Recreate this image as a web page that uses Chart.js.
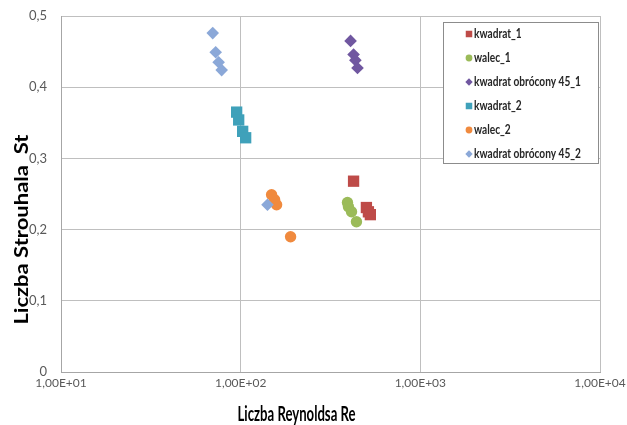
<!DOCTYPE html>
<html>
<head>
<meta charset="utf-8">
<script src="https://cdn.jsdelivr.net/npm/chart.js@4/dist/chart.umd.min.js"></script>
<style>
  html, body { margin: 0; padding: 0; background: #fff; }
</style>
</head>
<body>
<canvas id="chart" width="627" height="425"></canvas>
<script>
// Re / St pairs for each specimen shape
const kwadrat1Re = [425, 501, 514, 527];
const kwadrat1St = [0.268, 0.231, 0.225, 0.221];
const walec1Re = [393, 398, 414, 441];
const walec1St = [0.238, 0.232, 0.225, 0.211];
const obrocony1Re = [409, 425, 435, 447];
const obrocony1St = [0.465, 0.446, 0.438, 0.427];
const kwadrat2Re = [95.0, 97.5, 102.6, 106.6];
const kwadrat2St = [0.365, 0.354, 0.338, 0.329];
const walec2Re = [148.6, 154.5, 158.5, 189.6];
const walec2St = [0.249, 0.242, 0.235, 0.190];
const obrocony2Re = [69.9, 72.6, 75.4, 78.4, 141];
const obrocony2St = [0.476, 0.449, 0.435, 0.424, 0.235];

const seriesNames = ['kwadrat_1', 'walec_1', 'kwadrat obrócony 45_1', 'kwadrat_2', 'walec_2', 'kwadrat obrócony 45_2'];
const reTicks = [10, 100, 1000, 10000];
const stTicks = [0, 0.1, 0.2, 0.3, 0.4, 0.5];
const xTitle = 'Liczba Reynoldsa Re';
const yTitle = 'Liczba Strouhala  St';

const FONT = 'Lato, "Open Sans", sans-serif';

const pairs = (xs, ys) => xs.map((x, i) => ({ x: x, y: ys[i] }));

const styles = [
  { color: '#BE4B48', shape: 'rect', r: 8 },
  { color: '#9BBB59', shape: 'circle', r: 5.7 },
  { color: '#7057A0', shape: 'rectRot', r: 6.3 },
  { color: '#3FA1BA', shape: 'rect', r: 8 },
  { color: '#F08A3E', shape: 'circle', r: 5.7 },
  { color: '#8BA8D8', shape: 'rectRot', r: 6.3 },
];

const seriesData = [
  pairs(kwadrat1Re, kwadrat1St),
  pairs(walec1Re, walec1St),
  pairs(obrocony1Re, obrocony1St),
  pairs(kwadrat2Re, kwadrat2St),
  pairs(walec2Re, walec2St),
  pairs(obrocony2Re, obrocony2St),
];

const datasets = seriesData.map((data, i) => ({
  label: seriesNames[i],
  data: data,
  pointStyle: styles[i].shape,
  pointRadius: styles[i].r,
  pointBackgroundColor: styles[i].color,
  pointBorderWidth: 0,
  order: seriesData.length - i, // later series on top
}));

// 1,00E+02 style
function fmtExp(v) {
  let parts = v.toExponential(2).split('e');
  let exp = parseInt(parts[1], 10);
  return parts[0].replace('.', ',') + 'E' + (exp < 0 ? '-' : '+') + String(Math.abs(exp)).padStart(2, '0');
}

// squeeze text horizontally to a given width
function fillFitted(ctx, text, x, y, width) {
  let w = ctx.measureText(text).width;
  ctx.save();
  ctx.translate(x, y);
  ctx.scale(width / w, 1);
  ctx.fillText(text, 0, 0);
  ctx.restore();
}

const axisTitles = {
  id: 'axisTitles',
  afterDraw(chart) {
    let ctx = chart.ctx;
    let area = chart.chartArea;
    ctx.save();
    ctx.fillStyle = '#000';
    ctx.textAlign = 'center';
    ctx.textBaseline = 'middle';
    ctx.font = 'bold 21px ' + FONT;
    fillFitted(ctx, xTitle, area.left + (area.right - area.left) * 0.437, area.bottom + 42, 118);
    ctx.font = 'bold 19px ' + FONT;
    ctx.translate(22, area.top + (area.bottom - area.top) * 0.6);
    ctx.rotate(-Math.PI / 2);
    fillFitted(ctx, yTitle, 0, 0, 190);
    ctx.restore();
  }
};

const boxLegend = {
  id: 'boxLegend',
  afterDraw(chart) {
    let ctx = chart.ctx;
    let area = chart.chartArea;
    let left = area.right - 157, top = area.top + 6;
    ctx.save();
    ctx.fillStyle = '#fff';
    ctx.fillRect(left, top, 155, 141);
    ctx.strokeStyle = '#8c8c8c';
    ctx.lineWidth = 1;
    ctx.strokeRect(left + 0.5, top + 0.5, 155, 141);
    ctx.font = 'bold 13px ' + FONT;
    ctx.textBaseline = 'middle';
    let scale = 107 / ctx.measureText(seriesNames[2]).width;
    seriesNames.forEach((name, i) => {
      let cy = top + 12 + i * 24;
      let cx = left + 26;
      let s = styles[i];
      ctx.fillStyle = s.color;
      Chart.helpers.drawPoint(ctx, {
        pointStyle: s.shape,
        radius: s.shape === 'rect' ? 4.6 : (s.shape === 'circle' ? 3.4 : 3.7),
        rotation: 0,
        borderWidth: 0
      }, cx, cy);
      ctx.fillStyle = '#262626';
      ctx.textAlign = 'left';
      ctx.save();
      ctx.translate(cx + 5, cy);
      ctx.scale(scale, 1);
      ctx.fillText(name, 0, 0);
      ctx.restore();
    });
    ctx.restore();
  }
};

const chart = new Chart(document.getElementById('chart'), {
  type: 'scatter',
  data: { datasets: datasets },
  options: {
    responsive: false,
    animation: false,
    layout: { padding: { top: 16, right: 27, left: 0, bottom: 0 } },
    plugins: {
      legend: { display: false },
      tooltip: { enabled: false }
    },
    scales: {
      x: {
        type: 'logarithmic',
        min: reTicks[0],
        max: reTicks[reTicks.length - 1],
        afterBuildTicks: s => { s.ticks = reTicks.map(v => ({ value: v })); },
        afterFit: s => { s.height = 53; s.paddingLeft = 0; s.paddingRight = 0; },
        ticks: {
          callback: v => fmtExp(v),
          font: { family: FONT, size: 12 },
          color: '#595959',
          padding: 4,
          maxRotation: 0,
          autoSkip: false
        },
        grid: { color: '#bfbfbf', drawTicks: false },
        border: { color: '#a6a6a6' }
      },
      y: {
        min: stTicks[0],
        max: stTicks[stTicks.length - 1],
        afterBuildTicks: s => { s.ticks = stTicks.map(v => ({ value: v })); },
        afterFit: s => { s.width = 61; s.paddingTop = 0; s.paddingBottom = 0; },
        ticks: {
          callback: v => v === 0 ? '0' : v.toFixed(1).replace('.', ','),
          font: { family: FONT, size: 13 },
          color: '#595959',
          padding: 14
        },
        grid: { color: '#bfbfbf', drawTicks: false },
        border: { color: '#a6a6a6' }
      }
    }
  },
  plugins: [axisTitles, boxLegend]
});
</script>
</body>
</html>
